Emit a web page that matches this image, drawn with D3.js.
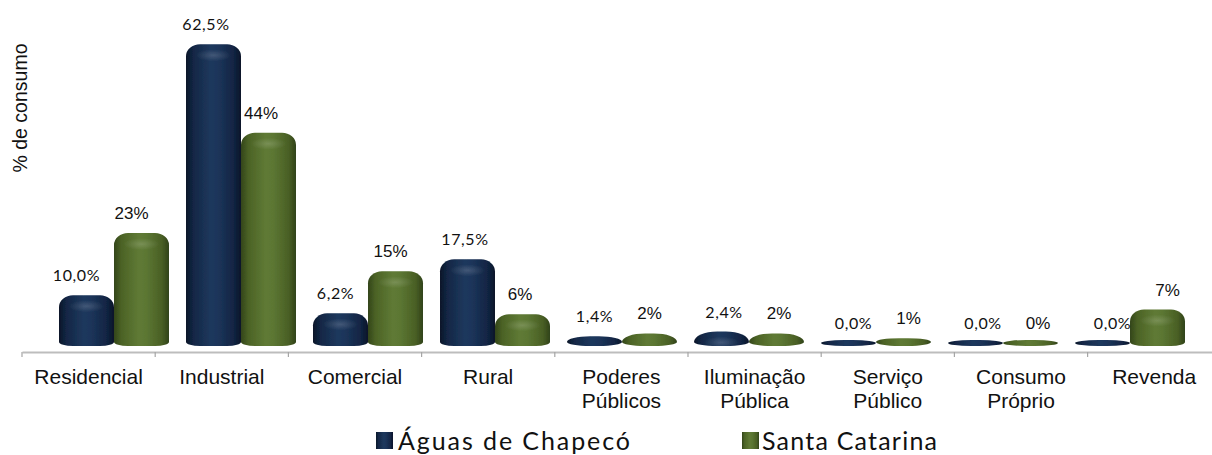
<!DOCTYPE html>
<html>
<head>
<meta charset="utf-8">
<script src="https://cdn.jsdelivr.net/npm/d3@7"></script>
<style>
  html, body { margin: 0; padding: 0; background: #fff; }
  svg { display: block; }
</style>
</head>
<body>
<svg id="chart" width="1212" height="455"></svg>
<script>
// Consumption share by customer class
const categories = ["Residencial", "Industrial", "Comercial", "Rural", "Poderes Públicos",
                    "Iluminação Pública", "Serviço Público", "Consumo Próprio", "Revenda"];
const seriesNames = ["Águas de Chapecó", "Santa Catarina"];
const aguasValues = [10.0, 62.5, 6.2, 17.5, 1.4, 2.4, 0.0, 0.0, 0.0];
const santaValues = [23, 44, 15, 6, 2, 2, 1, 0, 7];
const yTitle = "% de consumo";

const series = [
  { key: "aguas", name: seriesNames[0], values: aguasValues, fmt: v => d3.format(".1f")(v).replace(".", ",") + "%" },
  { key: "santa", name: seriesNames[1], values: santaValues, fmt: v => d3.format(".0f")(v) + "%" }
];

const svg = d3.select("#chart");
const defs = svg.append("defs");

// Cylinder shading for each series
const shades = {
  aguas: [["0%", "#0a1629"], ["14%", "#132746"], ["45%", "#1e385d"], ["58%", "#1c355a"], ["86%", "#122544"], ["100%", "#09152a"]],
  santa: [["0%", "#33451a"], ["14%", "#4c6326"], ["45%", "#5f7a35"], ["58%", "#5c7733"], ["86%", "#4a6025"], ["100%", "#31431a"]]
};
Object.entries(shades).forEach(([k, stops]) => {
  const g = defs.append("linearGradient").attr("id", "grad-" + k)
    .attr("x1", "0%").attr("x2", "100%").attr("y1", "0%").attr("y2", "0%");
  stops.forEach(([o, c]) => g.append("stop").attr("offset", o).attr("stop-color", c));
});
const hl = defs.append("radialGradient").attr("id", "cap-highlight");
hl.append("stop").attr("offset", "0%").attr("stop-color", "#fff").attr("stop-opacity", 0.16);
hl.append("stop").attr("offset", "100%").attr("stop-color", "#fff").attr("stop-opacity", 0);
const soft = defs.append("filter").attr("id", "soft").attr("x", "-10%").attr("y", "-10%").attr("width", "120%").attr("height", "120%");
soft.append("feGaussianBlur").attr("stdDeviation", 0.5);

// Scales: axis bands along the floor, bars and labels on their own planes
const xAxis = d3.scaleBand().domain(categories).range([22, 1220.8]);
const xBars = d3.scaleBand().domain(categories).range([50.5, 1193.5]);
const xLabels = d3.scaleBand().domain(categories).range([39.25, 1204.75]);
const xSeries = d3.scaleBand().domain(series.map(s => s.key)).range([-55, 55]);
const y = d3.scaleLinear().domain([0, 62.5]).range([344, 45.3]);
const floorY = 346;
const axisY = 352;

// Axis line with ticks at the category boundaries
const axis = svg.append("g").attr("transform", `translate(0,${axisY})`)
  .call(d3.axisBottom(xAxis).tickSize(0).tickSizeOuter(0).tickFormat(""));
axis.select(".domain").attr("stroke", "#bdbdbd").attr("stroke-width", 2);
axis.selectAll(".tick").remove();
const bounds = categories.map(c => xAxis(c)).concat([xAxis.range()[1]]);
axis.selectAll("line.bound").data(bounds).join("line").attr("class", "bound")
  .attr("x1", d => d).attr("x2", d => d).attr("y1", 0).attr("y2", 5)
  .attr("stroke", "#a6a6a6").attr("stroke-width", 1.2);

// Category labels (two-word names wrap onto two lines)
const catG = svg.append("g");
categories.forEach(c => {
  const words = c.split(" ");
  const t = catG.append("text")
    .attr("x", xAxis(c) + xAxis.bandwidth() / 2).attr("y", 384)
    .attr("text-anchor", "middle")
    .attr("font-family", "'Liberation Sans', Arial, sans-serif")
    .attr("font-size", 21).attr("fill", "#111");
  words.forEach((w, i) => t.append("tspan")
    .attr("x", xAxis(c) + xAxis.bandwidth() / 2).attr("dy", i === 0 ? 0 : 24).text(w));
});

// Rounded cylinder outline; very short bars flatten into a lens
function barPath(x, w, top, bottom) {
  const h = bottom - top;
  const rx = h < 16 ? w * 0.42 : 14;
  const ryB = Math.min(4, h / 2);
  const ryT = Math.max(0.5, Math.min(12, h - ryB));
  return `M${x},${top + ryT}` +
    `A${rx},${ryT} 0 0 1 ${x + rx},${top}` +
    `H${x + w - rx}` +
    `A${rx},${ryT} 0 0 1 ${x + w},${top + ryT}` +
    `V${bottom - ryB}` +
    `A${rx},${ryB} 0 0 1 ${x + w - rx},${bottom}` +
    `H${x + rx}` +
    `A${rx},${ryB} 0 0 1 ${x},${bottom - ryB}Z`;
}

const barsG = svg.append("g").attr("filter", "url(#soft)");
series.forEach(s => {
  const data = categories.map((c, i) => ({ c, v: s.values[i] }));
  const g = barsG.append("g");
  data.forEach(d => {
    const x = xBars(d.c) + xBars.bandwidth() / 2 + xSeries(s.key);
    const w = xSeries.bandwidth();
    const top = Math.min(y(d.v) - 1, floorY - 6);
    g.append("path").attr("d", barPath(x, w, top, floorY)).attr("fill", `url(#grad-${s.key})`);
    const h = floorY - top;
    if (h > 14) {
      g.append("ellipse").attr("cx", x + w / 2).attr("cy", top + 11)
        .attr("rx", 18).attr("ry", 6).attr("fill", "url(#cap-highlight)");
    }
  });
});

// Value labels
const labG = svg.append("g");
series.forEach(s => {
  categories.forEach((c, i) => {
    const v = s.values[i];
    const isA = s.key === "aguas";
    labG.append("text")
      .attr("x", xLabels(c) + xLabels.bandwidth() / 2 + xSeries(s.key) + xSeries.bandwidth() / 2)
      .attr("y", y(v) - 15)
      .attr("text-anchor", "middle")
      .attr("font-family", isA ? "Lato, 'Open Sans', sans-serif" : "'Liberation Sans', Arial, sans-serif")
      .attr("font-size", isA ? 16 : 17)
      .attr("letter-spacing", isA ? 0.6 : 0)
      .attr("fill", "#111")
      .text(s.fmt(v));
  });
});

// Y axis title
svg.append("text")
  .attr("transform", "translate(27,108) rotate(-90)")
  .attr("text-anchor", "middle")
  .attr("font-family", "'Liberation Sans', Arial, sans-serif")
  .attr("font-size", 19.5).attr("fill", "#111")
  .text(yTitle);

// Legend
const legendPos = [{ sx: 376, tx: 398, len: 232 }, { sx: 742, tx: 762, len: 175 }];
series.forEach((s, i) => {
  const p = legendPos[i];
  svg.append("rect").attr("x", p.sx).attr("y", 432).attr("width", 17).attr("height", 17)
    .attr("fill", `url(#grad-${s.key})`).attr("filter", "url(#soft)");
  svg.append("text").attr("x", p.tx).attr("y", 450)
    .attr("font-family", "Lato, 'Open Sans', sans-serif")
    .attr("font-size", 25).attr("fill", "#111")
    .attr("textLength", p.len).attr("lengthAdjust", "spacing")
    .text(s.name);
});
</script>
</body>
</html>
